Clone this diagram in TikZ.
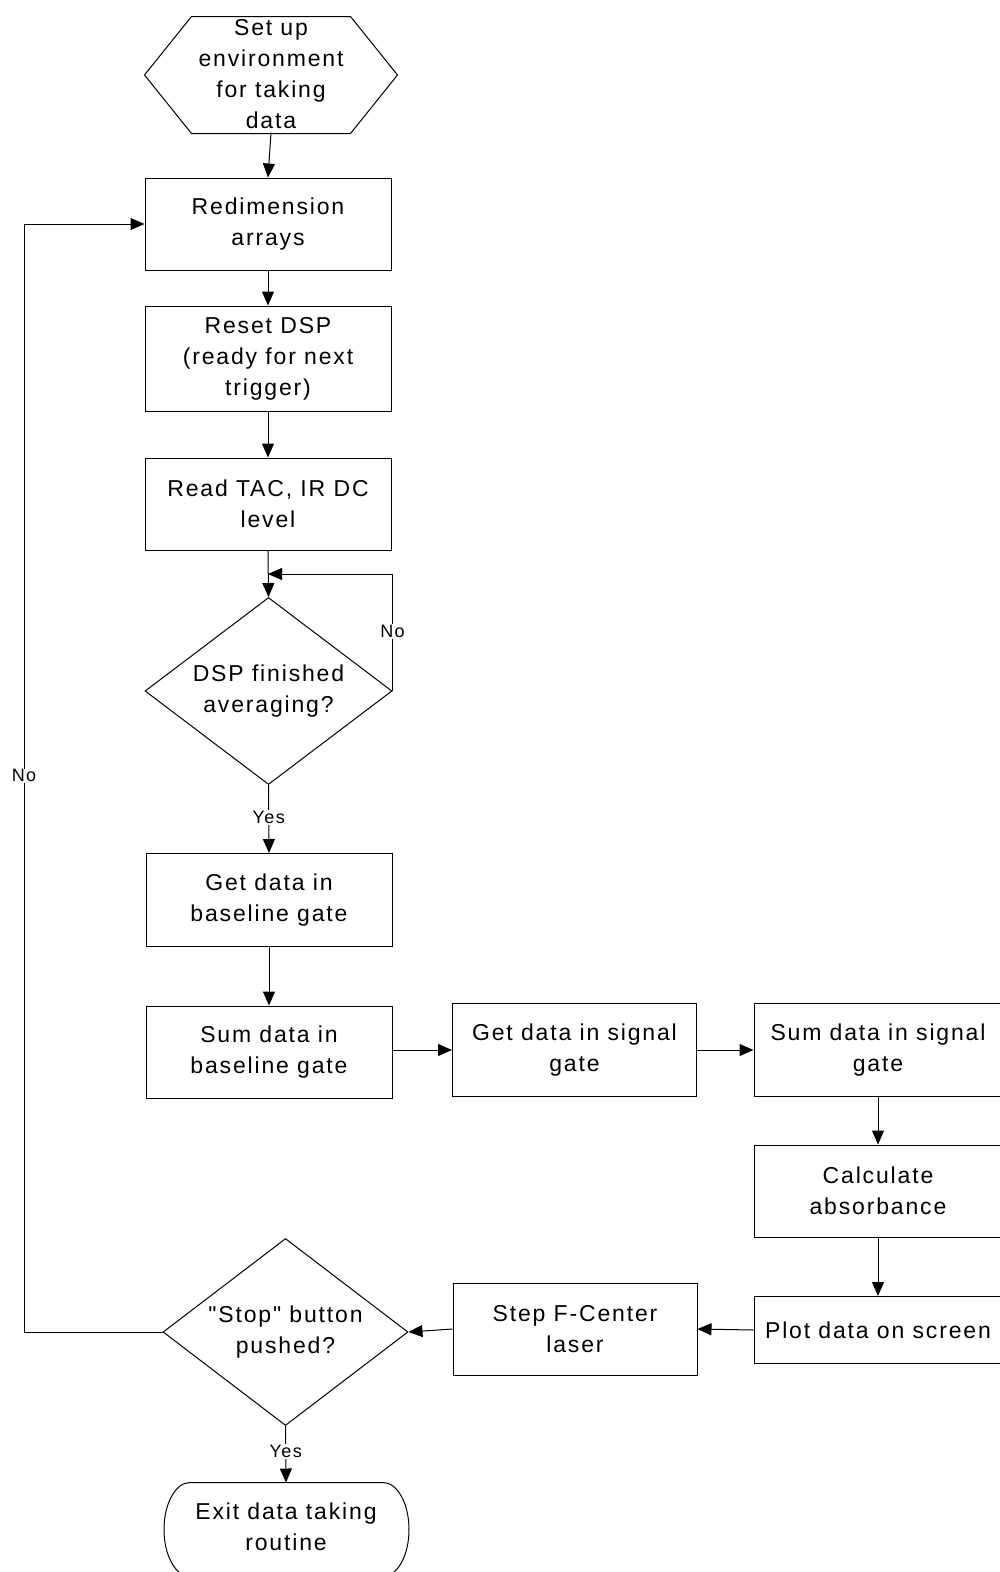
\documentclass[tikz,border=0pt]{standalone}
\usepackage{fontspec}
\setmainfont{Liberation Sans}[LetterSpace=8, Ligatures=TeXOff]
\usetikzlibrary{arrows.meta,shapes.geometric,calc}
\begin{document}
\begin{tikzpicture}[x=1pt,y=1pt,
  line width=1pt,
  arr/.style={-{Triangle[length=14pt,width=12pt]}},
  base/.style={font=\fontsize{23}{31}\selectfont, align=center, inner sep=0pt},
  proc/.style={base, draw, minimum width=246pt, minimum height=92pt},
  decision/.style={base, draw, shape=diamond, minimum width=247pt, minimum height=187pt, aspect=1.32},
  lbl/.style={font=\fontsize{18}{20}\selectfont, fill=white, inner sep=1pt},
]
\useasboundingbox (0,0) rectangle (1000,-1572);
% start hexagon
\node[base, minimum width=252pt, minimum height=116pt] (hex) at (271,-74) {Set up\\environment\\for taking\\data};
\draw ([yshift=-1pt]hex.west) -- ([xshift=47pt,yshift=-1pt]hex.north west) -- ([xshift=-47pt,yshift=-1pt]hex.north east) -- ([yshift=-1pt]hex.east) -- ([xshift=-47pt,yshift=-1pt]hex.south east) -- ([xshift=47pt,yshift=-1pt]hex.south west) -- cycle;
% process boxes
\node[proc] (redim) at (268,-224) {Redimension\\arrays};
\node[proc, minimum height=105pt] (reset) at (268,-358.5) {Reset DSP\\(ready for next\\trigger)};
\node[proc] (read) at (268,-504) {Read TAC, IR DC\\level};
\node[decision] (dsp) at (268.5,-691) {DSP finished\\averaging?};
\node[proc, minimum height=93pt] (getbase) at (269,-900) {Get data in\\baseline gate};
\node[proc] (sumbase) at (269,-1052) {Sum data in\\baseline gate};
\node[proc, minimum width=244pt, minimum height=93pt] (getsig) at (574.5,-1050) {Get data in signal\\gate};
\node[proc, minimum width=248pt, minimum height=93pt] (sumsig) at (878,-1050) {Sum data in signal\\gate};
\node[proc, minimum width=248pt] (calc) at (878,-1191) {Calculate\\absorbance};
\node[proc, minimum width=248pt, minimum height=67pt] (plot) at (878,-1330) {Plot data on screen};
\node[proc, minimum width=244pt] (step) at (575,-1329) {Step F-Center\\laser};
\node[decision, minimum width=245pt] (stop) at (285.5,-1332) {"Stop" button\\pushed?};
% exit terminal (bottom runs off the page)
\node[base, minimum width=245pt, minimum height=88pt] (exit) at (286,-1527) {Exit data taking\\routine};
\draw ([xshift=26pt]exit.north west) -- ([xshift=-26pt]exit.north east)
  arc[start angle=90, end angle=-90, x radius=26, y radius=47]
  -- ++(-193,0)
  arc[start angle=270, end angle=90, x radius=26, y radius=47] -- cycle;
% connectors
\coordinate (loopin) at (268,-574);
\coordinate (leftx) at (24,-1332);
\draw[arr] (hex.south) -- (redim.north);
\draw[arr] (redim.south) -- (reset.north);
\draw[arr] (reset.south) -- (read.north);
\draw[arr] (read.south) -- (dsp.north);
\draw[arr] (dsp.east) |- (loopin) node[pos=0.255, lbl] {No};
\draw[arr] (dsp.south) -- (getbase.north) node[pos=0.48, lbl] {Yes};
\draw[arr] (getbase.south) -- (sumbase.north);
\draw[arr] (sumbase.east |- getsig.west) -- (getsig.west);
\draw[arr] (getsig.east) -- (sumsig.west);
\draw[arr] (sumsig.south) -- (calc.north);
\draw[arr] (calc.south) -- (plot.north);
\draw[arr] (plot.west) -- (step.east);
\draw[arr] (step.west) -- (stop.east);
\draw[arr] (stop.south) -- (exit.north) node[pos=0.45, lbl] {Yes};
\draw[arr] (stop.west) -- (leftx) |- (redim.west) node[pos=0.251, lbl] {No};
\end{tikzpicture}
\end{document}
